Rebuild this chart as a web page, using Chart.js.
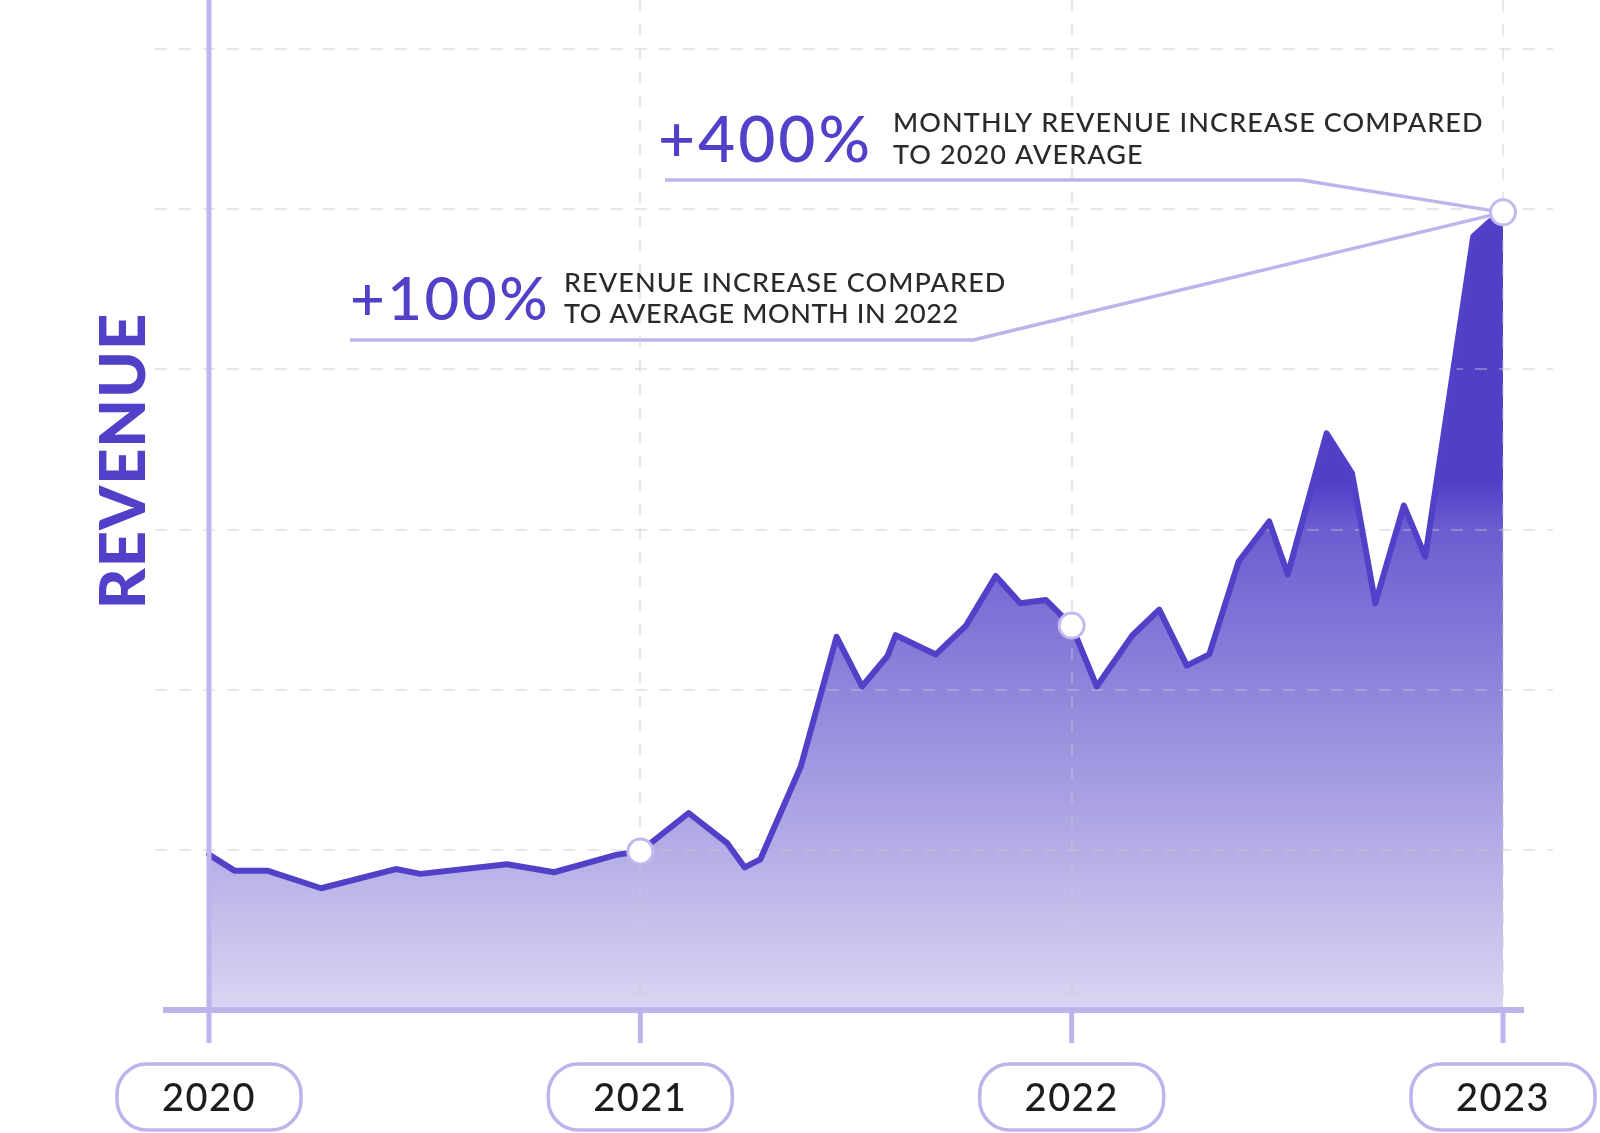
<!DOCTYPE html>
<html>
<head>
<meta charset="utf-8">
<script src="https://cdn.jsdelivr.net/npm/chart.js@4.4.0/dist/chart.umd.min.js"></script>
<style>
html, body { margin: 0; padding: 0; background: #fff; }
#wrap { width: 1600px; height: 1133px; }
</style>
</head>
<body>
<div id="wrap"><canvas id="revenueChart" width="1600" height="1133"></canvas></div>
<script>
// Revenue line, x in years, y in grid units (0..6)
var years = [2020.000, 2020.059, 2020.135, 2020.260, 2020.433, 2020.490, 2020.691, 2020.800, 2020.946, 2021.000,
  2021.112, 2021.202, 2021.242, 2021.278, 2021.372, 2021.455, 2021.514, 2021.573, 2021.592, 2021.685,
  2021.755, 2021.824, 2021.881, 2021.940, 2022.000, 2022.058, 2022.141, 2022.203, 2022.267, 2022.319,
  2022.387, 2022.458, 2022.501, 2022.591, 2022.650, 2022.704, 2022.770, 2022.820, 2022.931, 2022.968, 2023.000];
var revenue = [0.97, 0.87, 0.87, 0.76, 0.88, 0.85, 0.91, 0.86, 0.97, 0.99,
  1.23, 1.04, 0.89, 0.94, 1.52, 2.33, 2.02, 2.21, 2.34, 2.22,
  2.40, 2.71, 2.54, 2.56, 2.40, 2.02, 2.34, 2.50, 2.15, 2.22,
  2.80, 3.05, 2.72, 3.60, 3.35, 2.54, 3.15, 2.83, 4.83, 4.92, 4.98];

var yearTicks = [2020, 2021, 2022, 2023];
var yearLabels = ["2020", "2021", "2022", "2023"];
var markedYears = [2021, 2022, 2023];
var gridValues = [1, 2, 3, 4, 5, 6];

var calloutValues = ["+400%", "+100%"];
var calloutLines = [
  ["MONTHLY REVENUE INCREASE COMPARED", "TO 2020 AVERAGE"],
  ["REVENUE INCREASE COMPARED", "TO AVERAGE MONTH IN 2022"]
];
var axisTitle = "REVENUE";

var purple = "#5041c8";
var lavender = "#beb4eb";

function drawText(ctx, str, x, y, font, color, spacing, align) {
  ctx.save();
  ctx.font = font;
  ctx.fillStyle = color;
  ctx.textAlign = align || "left";
  ctx.textBaseline = "alphabetic";
  ctx.letterSpacing = (spacing || 0) + "px";
  ctx.fillText(str, x, y);
  ctx.restore();
}

var decor = {
  id: "decor",
  beforeDatasetsDraw: function (chart) {
    var ctx = chart.ctx;
    var meta = chart.getDatasetMeta(0);
    var last = meta.data[years.length - 1];
    // callout connectors
    ctx.save();
    ctx.strokeStyle = lavender;
    ctx.lineWidth = 3.5;
    ctx.lineJoin = "round";
    ctx.beginPath();
    ctx.moveTo(665, 180);
    ctx.lineTo(1301, 180);
    ctx.lineTo(last.x, last.y);
    ctx.stroke();
    ctx.beginPath();
    ctx.moveTo(350, 340);
    ctx.lineTo(973, 340);
    ctx.lineTo(last.x, last.y);
    ctx.stroke();
    ctx.restore();
  },
  beforeDatasetDraw: function (chart) {
    // grid drawn after the fill, below the line
    var ctx = chart.ctx;
    var xs = chart.scales.x, ys = chart.scales.y;
    ctx.save();
    ctx.strokeStyle = "rgba(200,200,206,0.42)";
    ctx.lineWidth = 2;
    ctx.setLineDash([12, 12]);
    gridValues.forEach(function (v) {
      var y = Math.round(ys.getPixelForValue(v));
      ctx.beginPath();
      ctx.moveTo(155, y);
      ctx.lineTo(1553, y);
      ctx.stroke();
    });
    yearTicks.slice(1).forEach(function (t) {
      var x = Math.round(xs.getPixelForValue(t));
      ctx.beginPath();
      ctx.moveTo(x, 0);
      ctx.lineTo(x, ys.getPixelForValue(0));
      ctx.stroke();
    });
    ctx.restore();
  },
  afterDatasetsDraw: function (chart) {
    var ctx = chart.ctx;
    var xs = chart.scales.x, ys = chart.scales.y;
    var y0 = ys.getPixelForValue(0);
    var x0 = xs.getPixelForValue(2020);
    ctx.save();
    ctx.strokeStyle = lavender;
    ctx.lineCap = "butt";
    // y axis
    ctx.lineWidth = 5;
    ctx.beginPath();
    ctx.moveTo(x0, 0);
    ctx.lineTo(x0, y0);
    ctx.stroke();
    // x axis
    ctx.lineWidth = 6;
    ctx.beginPath();
    ctx.moveTo(163, y0);
    ctx.lineTo(1524, y0);
    ctx.stroke();
    // ticks + year boxes
    yearTicks.forEach(function (t, i) {
      var x = xs.getPixelForValue(t);
      ctx.lineWidth = 5;
      ctx.beginPath();
      ctx.moveTo(x, y0);
      ctx.lineTo(x, 1043);
      ctx.stroke();
      ctx.lineWidth = 3.5;
      ctx.beginPath();
      ctx.roundRect(x - 92, 1064, 184, 66, 30);
      ctx.fillStyle = "#fff";
      ctx.fill();
      ctx.stroke();
      drawText(ctx, yearLabels[i], x, 1111, "500 38px Lato", "#1c1c1c", 1.5, "center");
    });
    ctx.restore();

    // axis title
    ctx.save();
    ctx.translate(145, 461);
    ctx.rotate(-Math.PI / 2);
    drawText(ctx, axisTitle, 0, 0, "900 63px Lato", purple, 1, "center");
    ctx.restore();

    // callouts
    drawText(ctx, calloutValues[0], 658, 162, "500 64px Lato", purple, 3);
    drawText(ctx, calloutLines[0][0], 893, 132, "500 27px Lato", "#2a2a2a", 1.1);
    drawText(ctx, calloutLines[0][1], 893, 164, "500 27px Lato", "#2a2a2a", 1.1);
    drawText(ctx, calloutValues[1], 350, 320, "500 60px Lato", purple, 2.5);
    drawText(ctx, calloutLines[1][0], 564, 292, "500 27px Lato", "#2a2a2a", 1.1);
    drawText(ctx, calloutLines[1][1], 564, 323, "500 27px Lato", "#2a2a2a", 0.6);
  }
};

var points = years.map(function (x, i) { return { x: x, y: revenue[i] }; });

var ctx = document.getElementById("revenueChart").getContext("2d");
var revenueChart = new Chart(ctx, {
  type: "line",
  data: {
    datasets: [{
      label: "Revenue",
      data: points,
      borderColor: purple,
      borderWidth: 6,
      borderJoinStyle: "round",
      borderCapStyle: "round",
      tension: 0,
      fill: "origin",
      clip: false,
      backgroundColor: function (context) {
        var chart = context.chart;
        if (!chart.chartArea) return null;
        var ys = chart.scales.y;
        var g = chart.ctx.createLinearGradient(0, ys.getPixelForValue(3.3), 0, ys.getPixelForValue(0));
        g.addColorStop(0, "#5040c8");
        g.addColorStop(0.09, "#6a5ed0");
        g.addColorStop(1, "#dad5f2");
        return g;
      },
      pointRadius: function (c) {
        return c.raw && markedYears.indexOf(c.raw.x) >= 0 ? 12.5 : 0;
      },
      pointBackgroundColor: "#ffffff",
      pointBorderColor: "#c2b9ee",
      pointBorderWidth: 3
    }]
  },
  options: {
    responsive: false,
    animation: false,
    devicePixelRatio: 1,
    events: [],
    layout: { padding: { left: 209, right: 97, top: 49, bottom: 123 } },
    plugins: { legend: { display: false }, tooltip: { enabled: false } },
    scales: {
      x: { type: "linear", min: 2020, max: 2023, display: false },
      y: { min: 0, max: 6, display: false }
    }
  },
  plugins: [decor]
});
</script>
</body>
</html>
